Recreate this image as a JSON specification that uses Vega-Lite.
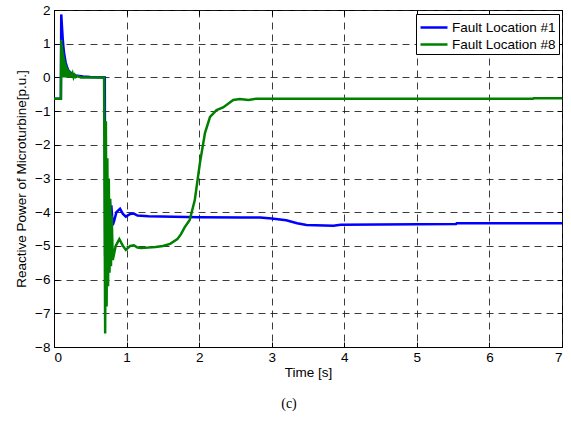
{
  "$schema": "https://vega.github.io/schema/vega-lite/v6.json",
  "autosize": {"type": "none"},
  "width": 508,
  "height": 337,
  "padding": {"left": 54, "top": 10, "right": 9, "bottom": 92},
  "background": "white",
  "config": {
    "view": {"stroke": "black", "strokeWidth": 1},
    "font": "Liberation Sans",
    "axis": {
      "labelFont": "Liberation Sans",
      "titleFont": "Liberation Sans",
      "labelFontSize": 13.5,
      "titleFontSize": 13.5,
      "titleFontWeight": "normal",
      "labelColor": "black",
      "titleColor": "black",
      "domainColor": "black",
      "tickColor": "black",
      "gridColor": "#1a1a1a",
      "gridDash": [7, 5],
      "gridWidth": 1,
      "gridOpacity": 0.85
    }
  },
  "title": {
    "text": "(c)",
    "orient": "bottom",
    "font": "Liberation Serif",
    "fontSize": 14,
    "fontWeight": "normal",
    "color": "black",
    "dx": -19,
    "offset": 18
  },
  "resolve": {"axis": {"x": "independent", "y": "independent"}},
  "data": {
    "values": [
      {"t": 0, "q": -0.63, "s": "Fault Location #1"},
      {"t": 0.095, "q": -0.63, "s": "Fault Location #1"},
      {"t": 0.1, "q": 1.87, "s": "Fault Location #1"},
      {"t": 0.11, "q": 1.5, "s": "Fault Location #1"},
      {"t": 0.12, "q": 1.15, "s": "Fault Location #1"},
      {"t": 0.13, "q": 0.9, "s": "Fault Location #1"},
      {"t": 0.14, "q": 0.7, "s": "Fault Location #1"},
      {"t": 0.16, "q": 0.45, "s": "Fault Location #1"},
      {"t": 0.18, "q": 0.3, "s": "Fault Location #1"},
      {"t": 0.2, "q": 0.2, "s": "Fault Location #1"},
      {"t": 0.25, "q": 0.1, "s": "Fault Location #1"},
      {"t": 0.3, "q": 0.06, "s": "Fault Location #1"},
      {"t": 0.4, "q": 0.03, "s": "Fault Location #1"},
      {"t": 0.5, "q": 0.01, "s": "Fault Location #1"},
      {"t": 0.7, "q": 0.0, "s": "Fault Location #1"},
      {"t": 0.705, "q": -5.3, "s": "Fault Location #1"},
      {"t": 0.712, "q": -3.0, "s": "Fault Location #1"},
      {"t": 0.72, "q": -4.8, "s": "Fault Location #1"},
      {"t": 0.73, "q": -3.5, "s": "Fault Location #1"},
      {"t": 0.74, "q": -4.6, "s": "Fault Location #1"},
      {"t": 0.75, "q": -3.6, "s": "Fault Location #1"},
      {"t": 0.76, "q": -4.5, "s": "Fault Location #1"},
      {"t": 0.77, "q": -3.7, "s": "Fault Location #1"},
      {"t": 0.78, "q": -4.4, "s": "Fault Location #1"},
      {"t": 0.79, "q": -3.8, "s": "Fault Location #1"},
      {"t": 0.81, "q": -4.38, "s": "Fault Location #1"},
      {"t": 0.83, "q": -4.25, "s": "Fault Location #1"},
      {"t": 0.86, "q": -4.0, "s": "Fault Location #1"},
      {"t": 0.91, "q": -3.9, "s": "Fault Location #1"},
      {"t": 0.95, "q": -4.05, "s": "Fault Location #1"},
      {"t": 0.99, "q": -4.13, "s": "Fault Location #1"},
      {"t": 1.05, "q": -4.05, "s": "Fault Location #1"},
      {"t": 1.1, "q": -4.04, "s": "Fault Location #1"},
      {"t": 1.15, "q": -4.1, "s": "Fault Location #1"},
      {"t": 1.3, "q": -4.12, "s": "Fault Location #1"},
      {"t": 2.0, "q": -4.15, "s": "Fault Location #1"},
      {"t": 2.6, "q": -4.16, "s": "Fault Location #1"},
      {"t": 2.84, "q": -4.16, "s": "Fault Location #1"},
      {"t": 3.0, "q": -4.19, "s": "Fault Location #1"},
      {"t": 3.2, "q": -4.24, "s": "Fault Location #1"},
      {"t": 3.35, "q": -4.33, "s": "Fault Location #1"},
      {"t": 3.48, "q": -4.38, "s": "Fault Location #1"},
      {"t": 3.85, "q": -4.4, "s": "Fault Location #1"},
      {"t": 3.95, "q": -4.37, "s": "Fault Location #1"},
      {"t": 5.54, "q": -4.35, "s": "Fault Location #1"},
      {"t": 5.55, "q": -4.33, "s": "Fault Location #1"},
      {"t": 7.0, "q": -4.33, "s": "Fault Location #1"},

      {"t": 0, "q": -0.63, "s": "Fault Location #8"},
      {"t": 0.095, "q": -0.63, "s": "Fault Location #8"},
      {"t": 0.1, "q": 1.12, "s": "Fault Location #8"},
      {"t": 0.104, "q": 0.0, "s": "Fault Location #8"},
      {"t": 0.108, "q": 0.95, "s": "Fault Location #8"},
      {"t": 0.112, "q": 0.0, "s": "Fault Location #8"},
      {"t": 0.116, "q": 0.82, "s": "Fault Location #8"},
      {"t": 0.12, "q": 0.0, "s": "Fault Location #8"},
      {"t": 0.124, "q": 0.72, "s": "Fault Location #8"},
      {"t": 0.128, "q": 0.0, "s": "Fault Location #8"},
      {"t": 0.132, "q": 0.62, "s": "Fault Location #8"},
      {"t": 0.136, "q": 0.0, "s": "Fault Location #8"},
      {"t": 0.14, "q": 0.53, "s": "Fault Location #8"},
      {"t": 0.145, "q": 0.0, "s": "Fault Location #8"},
      {"t": 0.15, "q": 0.45, "s": "Fault Location #8"},
      {"t": 0.155, "q": 0.0, "s": "Fault Location #8"},
      {"t": 0.16, "q": 0.38, "s": "Fault Location #8"},
      {"t": 0.166, "q": 0.0, "s": "Fault Location #8"},
      {"t": 0.172, "q": 0.32, "s": "Fault Location #8"},
      {"t": 0.178, "q": 0.0, "s": "Fault Location #8"},
      {"t": 0.185, "q": 0.27, "s": "Fault Location #8"},
      {"t": 0.192, "q": 0.0, "s": "Fault Location #8"},
      {"t": 0.2, "q": 0.22, "s": "Fault Location #8"},
      {"t": 0.208, "q": 0.0, "s": "Fault Location #8"},
      {"t": 0.217, "q": 0.18, "s": "Fault Location #8"},
      {"t": 0.226, "q": 0.0, "s": "Fault Location #8"},
      {"t": 0.236, "q": 0.14, "s": "Fault Location #8"},
      {"t": 0.246, "q": 0.0, "s": "Fault Location #8"},
      {"t": 0.258, "q": 0.1, "s": "Fault Location #8"},
      {"t": 0.27, "q": 0.0, "s": "Fault Location #8"},
      {"t": 0.285, "q": 0.07, "s": "Fault Location #8"},
      {"t": 0.3, "q": 0.01, "s": "Fault Location #8"},
      {"t": 0.33, "q": 0.04, "s": "Fault Location #8"},
      {"t": 0.37, "q": 0.0, "s": "Fault Location #8"},
      {"t": 0.69, "q": 0.0, "s": "Fault Location #8"},
      {"t": 0.705, "q": -7.6, "s": "Fault Location #8"},
      {"t": 0.715, "q": -1.3, "s": "Fault Location #8"},
      {"t": 0.725, "q": -6.8, "s": "Fault Location #8"},
      {"t": 0.735, "q": -2.4, "s": "Fault Location #8"},
      {"t": 0.745, "q": -6.2, "s": "Fault Location #8"},
      {"t": 0.755, "q": -3.0, "s": "Fault Location #8"},
      {"t": 0.765, "q": -5.8, "s": "Fault Location #8"},
      {"t": 0.775, "q": -3.6, "s": "Fault Location #8"},
      {"t": 0.785, "q": -5.6, "s": "Fault Location #8"},
      {"t": 0.795, "q": -4.1, "s": "Fault Location #8"},
      {"t": 0.81, "q": -5.42, "s": "Fault Location #8"},
      {"t": 0.85, "q": -5.0, "s": "Fault Location #8"},
      {"t": 0.9, "q": -4.8, "s": "Fault Location #8"},
      {"t": 0.95, "q": -5.0, "s": "Fault Location #8"},
      {"t": 0.99, "q": -5.12, "s": "Fault Location #8"},
      {"t": 1.05, "q": -5.0, "s": "Fault Location #8"},
      {"t": 1.1, "q": -4.98, "s": "Fault Location #8"},
      {"t": 1.15, "q": -5.05, "s": "Fault Location #8"},
      {"t": 1.2, "q": -5.06, "s": "Fault Location #8"},
      {"t": 1.3, "q": -5.05, "s": "Fault Location #8"},
      {"t": 1.4, "q": -5.03, "s": "Fault Location #8"},
      {"t": 1.5, "q": -5.0, "s": "Fault Location #8"},
      {"t": 1.6, "q": -4.94, "s": "Fault Location #8"},
      {"t": 1.7, "q": -4.8, "s": "Fault Location #8"},
      {"t": 1.75, "q": -4.65, "s": "Fault Location #8"},
      {"t": 1.8, "q": -4.45, "s": "Fault Location #8"},
      {"t": 1.87, "q": -4.23, "s": "Fault Location #8"},
      {"t": 1.94, "q": -3.64, "s": "Fault Location #8"},
      {"t": 2.01, "q": -2.55, "s": "Fault Location #8"},
      {"t": 2.08, "q": -1.65, "s": "Fault Location #8"},
      {"t": 2.15, "q": -1.17, "s": "Fault Location #8"},
      {"t": 2.24, "q": -0.97, "s": "Fault Location #8"},
      {"t": 2.33, "q": -0.89, "s": "Fault Location #8"},
      {"t": 2.47, "q": -0.67, "s": "Fault Location #8"},
      {"t": 2.56, "q": -0.64, "s": "Fault Location #8"},
      {"t": 2.68, "q": -0.67, "s": "Fault Location #8"},
      {"t": 2.79, "q": -0.63, "s": "Fault Location #8"},
      {"t": 6.6, "q": -0.63, "s": "Fault Location #8"},
      {"t": 6.61, "q": -0.62, "s": "Fault Location #8"},
      {"t": 7.0, "q": -0.62, "s": "Fault Location #8"}
    ]
  },
  "layer": [
    {
      "mark": {"type": "line", "strokeWidth": 2.5, "clip": true},
      "encoding": {
        "x": {
          "field": "t", "type": "quantitative",
          "scale": {"domain": [0, 7], "nice": false, "zero": false},
          "axis": {"orient": "bottom", "title": "Time [s]", "values": [0,1,2,3,4,5,6,7], "tickSize": -5, "labelPadding": 8, "titlePadding": 2, "grid": true, "domain": true}
        },
        "y": {
          "field": "q", "type": "quantitative",
          "scale": {"domain": [-8, 2], "nice": false, "zero": false},
          "axis": {"orient": "left", "title": "Reactive Power of Microturbine[p.u.]", "values": [-8,-7,-6,-5,-4,-3,-2,-1,0,1,2], "tickSize": -5, "labelPadding": 9, "titlePadding": 6, "grid": true, "domain": true}
        },
        "color": {
          "field": "s", "type": "nominal",
          "scale": {"domain": ["Fault Location #1", "Fault Location #8"], "range": ["#0000ff", "#008000"]},
          "legend": {
            "title": null,
            "orient": "none",
            "legendX": 362,
            "legendY": 4,
            "symbolType": "M-1,0L2,0",
            "symbolSize": 324,
            "symbolStrokeWidth": 2.5,
            "labelFontSize": 13.5,
            "labelFont": "Liberation Sans",
            "labelColor": "black",
            "fillColor": "white",
            "strokeColor": "black",
            "padding": 3,
            "rowPadding": -1,
            "labelOffset": 12
          }
        }
      }
    },
    {
      "mark": {"type": "point", "opacity": 0},
      "encoding": {
        "x": {"field": "t", "type": "quantitative", "axis": {"orient": "top", "title": null, "labels": false, "grid": false, "domain": false, "tickSize": -5, "values": [0,1,2,3,4,5,6,7]}},
        "y": {"field": "q", "type": "quantitative", "axis": {"orient": "right", "title": null, "labels": false, "grid": false, "domain": false, "tickSize": -5, "values": [-8,-7,-6,-5,-4,-3,-2,-1,0,1,2]}}
      }
    }
  ]
}
